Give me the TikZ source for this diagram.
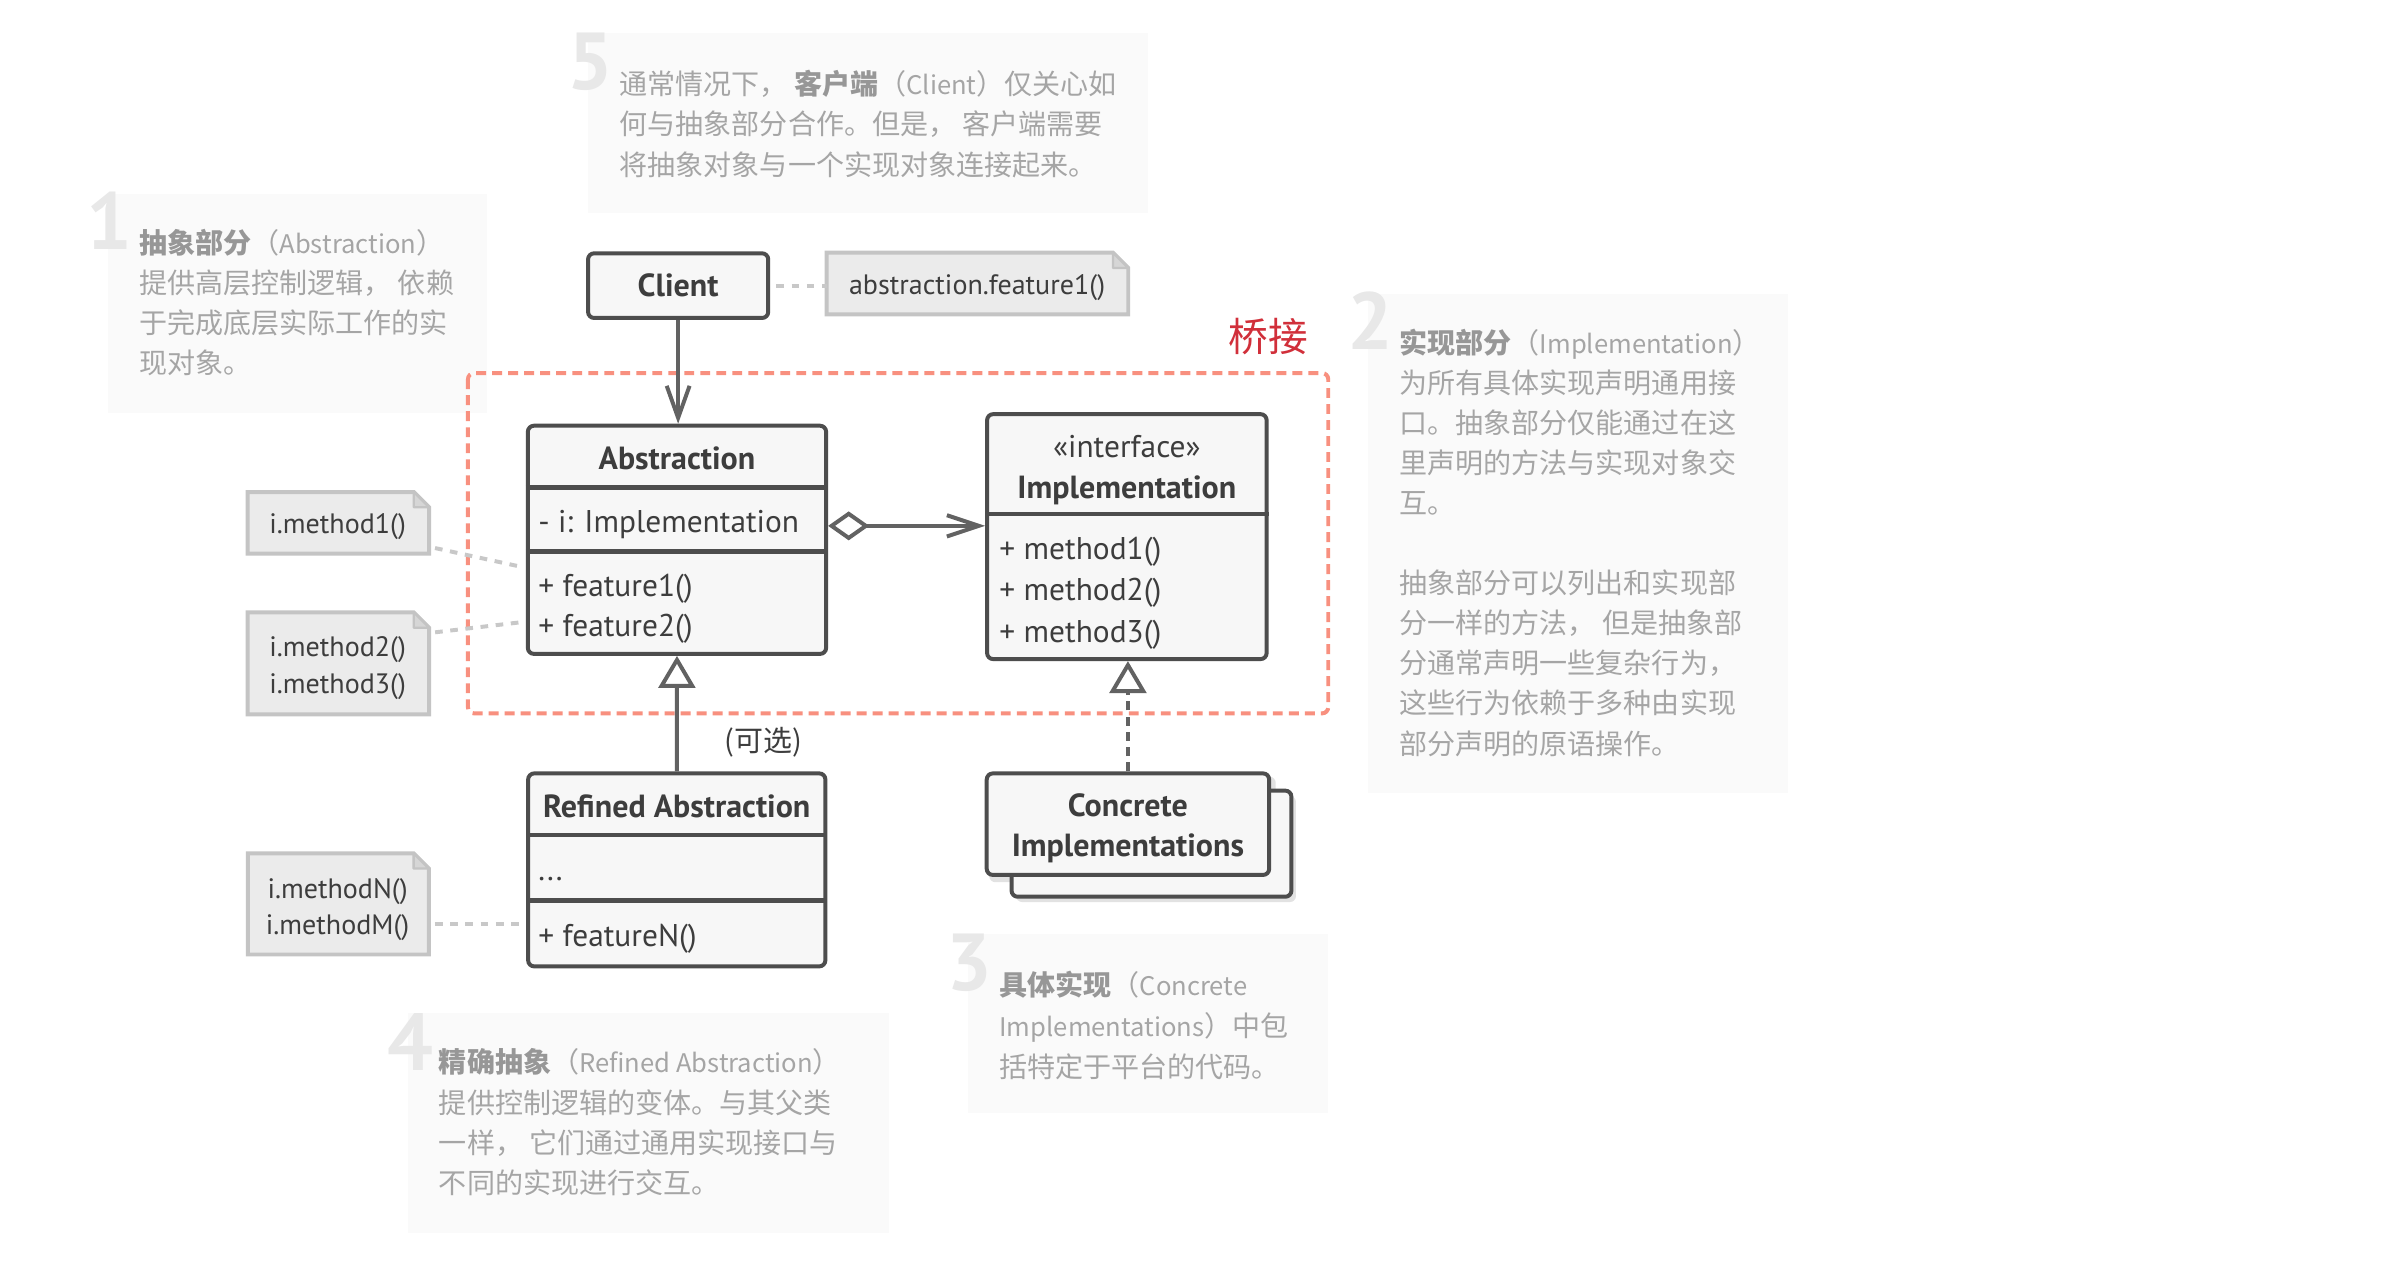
\documentclass[tikz,border=0pt]{standalone}
\usepackage{fontspec}
\setmainfont{PT Sans}
\newfontfamily\cjk{Noto Sans CJK SC}
\usetikzlibrary{arrows.meta,backgrounds,calc}
\definecolor{umlline}{HTML}{4D4D4D}
\definecolor{umlfill}{HTML}{F7F7F7}
\definecolor{umltext}{HTML}{3D3D3D}
\definecolor{connc}{HTML}{626262}
\definecolor{notefill}{HTML}{EBEBEB}
\definecolor{noteline}{HTML}{C4C4C4}
\definecolor{notecorner}{HTML}{D6D6D6}
\definecolor{dotline}{HTML}{C8C8C8}
\definecolor{descbg}{HTML}{FAFAFA}
\definecolor{desctext}{HTML}{A5A5A5}
\definecolor{descbold}{HTML}{979797}
\definecolor{bignumc}{HTML}{E8E8E8}
\definecolor{bridgec}{HTML}{F8907F}
\definecolor{bridgetext}{HTML}{D12F3A}
\definecolor{shadowc}{HTML}{E2E2E2}
\newcommand\notefold[1]{%
  \filldraw[noteshape] (#1.south west) -- (#1.north west) -- ([xshift=-10pt]#1.north east) -- ([yshift=-10pt]#1.north east) -- (#1.south east) -- cycle;
  \filldraw[notefoldstyle] ([xshift=-10pt]#1.north east) -- ([xshift=-10pt,yshift=-10pt]#1.north east) -- ([yshift=-10pt]#1.north east) -- cycle;}
\newcommand\hd[1]{{\bfseries\color{descbold}#1}}
\newcommand\lt[1]{{\fontsize{16.8}{26}\selectfont #1}}
\begin{document}
\begin{tikzpicture}[x=1pt,y=-1pt,
  umlbox/.style={draw=umlline, fill=umlfill, line width=2.6pt, rounded corners=4pt, inner sep=0pt},
  umldiv/.style={draw=umlline, line width=3pt},
  umltxt/.style={text=umltext, font=\fontsize{20.6}{24}\selectfont, inner sep=0pt, text height=14.4pt, text depth=0pt},
  umlbold/.style={text=umltext, font=\bfseries\fontsize{21}{24}\selectfont, inner sep=0pt, text height=14.7pt, text depth=0pt},
  umlleft/.style={umltxt, anchor=west},
  notetxt/.style={text=umltext, font=\fontsize{18.4}{24}\selectfont, inner sep=0pt, text height=12.9pt, text depth=0pt},
  noteshape/.style={fill=notefill, draw=noteline, line width=2.6pt},
  notefoldstyle/.style={fill=notecorner, draw=noteline, line width=1.5pt, line join=round},
  notebox/.style={inner sep=0pt},
  desc/.style={anchor=west, inner sep=0pt, text=desctext, font=\cjk\fontsize{18.4}{26}\selectfont, text height=14pt, text depth=0pt},
  bignum/.style={inner sep=0pt, text=bignumc, font=\bfseries\fontsize{53}{53}\selectfont, text height=37pt, text depth=0pt},
  conn/.style={draw=connc, line width=2.6pt},
  dotconn/.style={draw=dotline, line width=2.6pt, dash pattern=on 5pt off 5pt},
  bridgebox/.style={draw=bridgec, line width=2.6pt, dash pattern=on 6.5pt off 4pt, rounded corners=4pt}
]
\useasboundingbox (0,0) rectangle (1568,838.5);
\begin{scope}[on background layer]
  \fill[white] (0,0) rectangle (1568,838.5);
  \fill[descbg] (385.6,21.9) rectangle (753,140);
  \fill[descbg] (70.9,127.3) rectangle (319.7,271);
  \fill[descbg] (897.6,193) rectangle (1173,520);
  \fill[descbg] (635,613) rectangle (871,730);
  \fill[descbg] (267.5,664.7) rectangle (583,809);
\end{scope}

% big numbers
\node[bignum] (d1) at (72,145.5) {1};
\node[bignum] (d2) at (899,211) {2};
\node[bignum] (d3) at (636.3,631.5) {3};
\node[bignum] (d4) at (269,683.5) {4};
\node[bignum] (d5) at (387.5,40.4) {5};

% description 5
\node[desc] (t5a) at (406.4,54.7) {通常情况下， \hd{客户端}（\lt{Client}）仅关心如};
\node[desc] (t5b) at (406.4,81.5) {何与抽象部分合作。但是， 客户端需要};
\node[desc] (t5c) at (406.4,108.3) {将抽象对象与一个实现对象连接起来。};
% description 1
\node[desc] (t1a) at (91.2,159.5) {\hd{抽象部分}（\lt{Abstraction}）};
\node[desc] (t1b) at (91.2,185.8) {提供高层控制逻辑， 依赖};
\node[desc] (t1c) at (91.2,212) {于完成底层实际工作的实};
\node[desc] (t1d) at (91.2,238) {现对象。};
% description 2
\node[desc] (t2a) at (918,225) {\hd{实现部分}（\lt{Implementation}）};
\node[desc] (t2b) at (918,251.3) {为所有具体实现声明通用接};
\node[desc] (t2c) at (918,277.6) {口。抽象部分仅能通过在这};
\node[desc] (t2d) at (918,303.9) {里声明的方法与实现对象交};
\node[desc] (t2e) at (918,330.2) {互。};
\node[desc] (t2f) at (918,382.5) {抽象部分可以列出和实现部};
\node[desc] (t2g) at (918,408.8) {分一样的方法， 但是抽象部};
\node[desc] (t2h) at (918,435.1) {分通常声明一些复杂行为，};
\node[desc] (t2i) at (918,461.4) {这些行为依赖于多种由实现};
\node[desc] (t2j) at (918,487.7) {部分声明的原语操作。};
% description 3
\node[desc] (t3a) at (655.5,646) {\hd{具体实现}（\lt{Concrete}};
\node[desc] (t3b) at (655.5,673) {\lt{Implementations}）中包};
\node[desc] (t3c) at (655.5,700) {括特定于平台的代码。};
% description 4
\node[desc] (t4a) at (287.8,696.7) {\hd{精确抽象}（\lt{Refined Abstraction}）};
\node[desc] (t4b) at (287.8,723.4) {提供控制逻辑的变体。与其父类};
\node[desc] (t4c) at (287.8,749.8) {一样， 它们通过通用实现接口与};
\node[desc] (t4d) at (287.8,776) {不同的实现进行交互。};

% bridge region
\draw[bridgebox] (307,244.8) rectangle (871.4,468);
\node[inner sep=0pt, text=bridgetext, font=\cjk\fontsize{26}{30}\selectfont] (bridge) at (832,221) {桥接};

% classes
\node[umlbox, minimum width=118.2pt, minimum height=42.4pt] (client) at (444.9,187.4) {};
\node[umlbold] (clientt) at (444.9,187.4) {Client};

\node[umlbox, minimum width=195.7pt, minimum height=149.7pt] (abs) at (444.15,354.15) {};
\draw[umldiv] ([yshift=-41.7pt]abs.north west) -- ([yshift=-41.7pt]abs.north east);
\draw[umldiv] ([yshift=-83.7pt]abs.north west) -- ([yshift=-83.7pt]abs.north east);
\node[umlbold] (abst) at (444.15,300.6) {Abstraction};
\node[umlleft] (absf) at (353,342) {- i: Implementation};
\node[umlleft] (absm1) at (353,384) {+ feature1()};
\node[umlleft] (absm2) at (353,410.5) {+ feature2()};

\node[umlbox, minimum width=183.4pt, minimum height=160.7pt] (impl) at (739.3,352.05) {};
\draw[umldiv] ([yshift=-66.9pt]impl.north west) -- ([yshift=-66.9pt]impl.north east);
\node[umltxt] (implst) at (739.3,293) {«interface»};
\node[umlbold] (implt) at (739.3,319.6) {Implementation};
\node[umlleft] (implm1) at (655.5,359.6) {+ method1()};
\node[umlleft] (implm2) at (655.5,387) {+ method2()};
\node[umlleft] (implm3) at (655.5,414.5) {+ method3()};

\node[umlbox, minimum width=195pt, minimum height=126.6pt] (refined) at (444,570.7) {};
\draw[umldiv] ([yshift=-41.6pt]refined.north west) -- ([yshift=-41.6pt]refined.north east);
\draw[umldiv] ([yshift=-84.6pt]refined.north west) -- ([yshift=-84.6pt]refined.north east);
\node[umlbold] (refinedt) at (444,529) {Refined Abstraction};
\node[umlleft] (refinedf) at (353,570.5) {...};
\node[umlleft] (refinedm) at (353,613.5) {+ featureN()};

\node[umlbox, minimum width=185.3pt, minimum height=66.6pt] (conc) at (740,540.7) {};
\node[umlbold] (conct1) at (740,528) {Concrete};
\node[umlbold] (conct2) at (740,554.5) {Implementations};
\begin{scope}[on background layer]
  \fill[shadowc, rounded corners=4pt] ([shift={(3pt,-3.5pt)}]conc.north west) rectangle ([shift={(3pt,-3.5pt)}]conc.south east);
  \fill[shadowc, rounded corners=4pt] ([shift={(20.6pt,-16.1pt)}]conc.north west) rectangle ([shift={(16.3pt,-16.5pt)}]conc.south east);
  \draw[umlbox] ([shift={(17.6pt,-12.6pt)}]conc.north west) rectangle ([shift={(13.3pt,-13pt)}]conc.south east);
\end{scope}

% notes
\node[notebox, minimum width=197.5pt, minimum height=40pt] (n0) at (641.25,186) {};
\node[notebox, minimum width=118.6pt, minimum height=40pt] (n1) at (222,343) {};
\node[notebox, minimum width=118.6pt, minimum height=66.5pt] (n2) at (222,435.25) {};
\node[notebox, minimum width=118.3pt, minimum height=66pt] (n3) at (222,593) {};
\begin{scope}[on background layer]
  \notefold{n0}
  \notefold{n1}
  \notefold{n2}
  \notefold{n3}
\end{scope}
\node[notetxt] (n0t) at (641,187) {abstraction.feature1()};
\node[notetxt] (n1t) at (221.5,343.5) {i.method1()};
\node[notetxt] (n2ta) at (221.5,424.5) {i.method2()};
\node[notetxt] (n2tb) at (221.5,448.5) {i.method3()};
\node[notetxt] (n3ta) at (221.5,583) {i.methodN()};
\node[notetxt] (n3tb) at (221.5,606.5) {i.methodM()};

% connectors
\node[umltxt, font=\cjk\fontsize{19}{24}\selectfont] (opt) at (501,486) {(可选)};
\draw[conn, -{Straight Barb[length=21pt,width=15pt]}] (client.south) -- (client.south |- abs.north);
\coordinate (aggs) at ([yshift=9.15pt]abs.east);
\draw[conn, {Diamond[length=27pt,width=19pt,fill=white]}-{Straight Barb[length=21pt,width=14pt]}] (aggs) -- (aggs -| impl.west);
\draw[conn, -{Triangle[length=21pt,width=24pt,fill=white]}] (refined.north) -- (abs.south);
\draw[conn, dash pattern=on 6pt off 4pt, -{Triangle[length=21pt,width=24pt,fill=white]}] (conc.north) -- (conc.north |- impl.south);

\coordinate (c1) at (346.3,372.8);
\coordinate (c2) at (346.3,407.7);
\coordinate (c3) at (346.5,606.3);
\draw[dotconn, shorten <=4pt] (client.east) -- (client.east -| n0.west);
\draw[dotconn, shorten <=4pt, shorten >=3pt] ([yshift=-15.7pt]n1.east) -- (c1);
\draw[dotconn, shorten <=4pt, shorten >=3pt] ([yshift=19.95pt]n2.east) -- (c2);
\draw[dotconn, shorten <=4pt, shorten >=3pt] ([yshift=-13.3pt]n3.east) -- (c3);
\end{tikzpicture}
\end{document}
